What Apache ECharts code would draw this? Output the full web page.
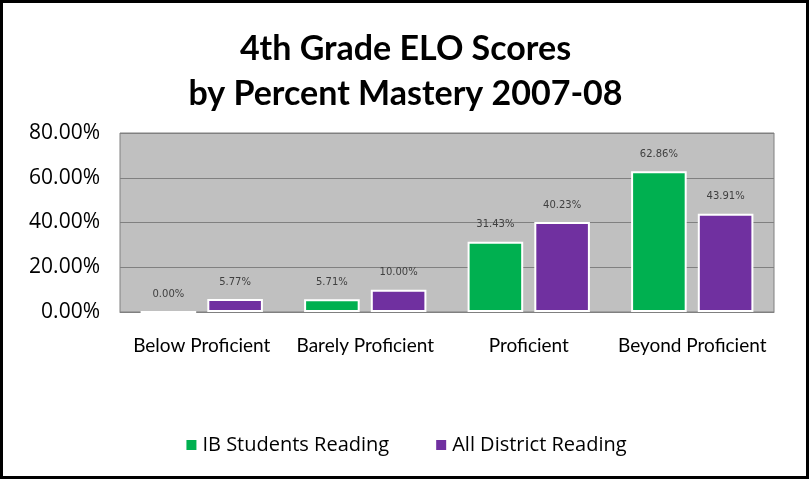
<!DOCTYPE html>
<html>
<head>
<meta charset="utf-8">
<script src="https://cdn.jsdelivr.net/npm/echarts@6/dist/echarts.min.js"></script>
<style>
  html, body { margin: 0; padding: 0; background: #fff; }
  #chart1 { width: 811px; height: 481px; }
</style>
</head>
<body>
<div id="chart1"></div>
<script>
var categories = ['Below Proficient', 'Barely Proficient', 'Proficient', 'Beyond Proficient'];
var ibStudents = [0.00, 5.71, 31.43, 62.86];
var allDistrict = [5.77, 10.00, 40.23, 43.91];
var yTicks = [0, 20, 40, 60, 80];
const colors = ['#00B050', '#7030A0'];

var fontName = 'Lato';

function barSeries(name, data) {
    return {
        name: name,
        type: 'bar',
        data: data,
        barWidth: '34%',
        barGap: '20%',
        itemStyle: {
            borderColor: '#ffffff',
            borderWidth: 2
        },
        label: {
            show: true,
            position: 'top',
            distance: 12,
            color: '#404040',
            fontFamily: 'DejaVu Sans',
            fontSize: 10,
            formatter: function (p) {
                return p.value.toFixed(2) + '%';
            }
        }
    };
}

var myChart1 = echarts.init(document.getElementById('chart1'));
var option = {
    color: colors,
    animation: false,
    title: {
        text: '4th Grade ELO Scores\nby Percent Mastery 2007-08',
        left: 'center',
        top: 22,
        textStyle: {
            fontFamily: fontName,
            fontSize: 34,
            fontWeight: 'bold',
            color: '#000',
            lineHeight: 45
        }
    },
    graphic: [
        {
            type: 'rect',
            shape: { x: 1.5, y: 1.5, width: 806, height: 476 },
            style: { fill: 'none', stroke: '#000', lineWidth: 3 },
            silent: true
        }
    ],
    legend: {
        data: ['IB Students Reading', 'All District Reading'],
        top: 430,
        left: 'center',
        itemWidth: 12,
        itemHeight: 12,
        itemGap: 45,
        icon: 'rect',
        textStyle: {
            fontFamily: 'Open Sans',
            fontSize: 20,
            color: '#000'
        }
    },
    grid: {
        left: 120,
        right: 37,
        top: 133,
        bottom: 169,
        show: true,
        backgroundColor: '#C0C0C0',
        borderColor: '#808080',
        borderWidth: 1
    },
    xAxis: {
        type: 'category',
        data: categories,
        axisLine: { show: true, lineStyle: { color: '#808080' } },
        axisTick: { show: false },
        axisLabel: {
            margin: 24,
            fontFamily: fontName,
            fontSize: 19,
            color: '#000',
            interval: 0
        }
    },
    yAxis: {
        type: 'value',
        min: yTicks[0],
        max: yTicks[yTicks.length - 1],
        interval: 20,
        axisLine: { show: false },
        axisTick: { show: false },
        splitLine: { lineStyle: { color: '#808080', width: 1 } },
        axisLabel: {
            margin: 20,
            fontFamily: 'Open Sans',
            fontSize: 21,
            color: '#000',
            formatter: function (v) {
                return v.toFixed(2) + '%';
            }
        }
    },
    series: [
        barSeries('IB Students Reading', ibStudents),
        barSeries('All District Reading', allDistrict)
    ]
};
myChart1.setOption(option);
</script>
</body>
</html>
